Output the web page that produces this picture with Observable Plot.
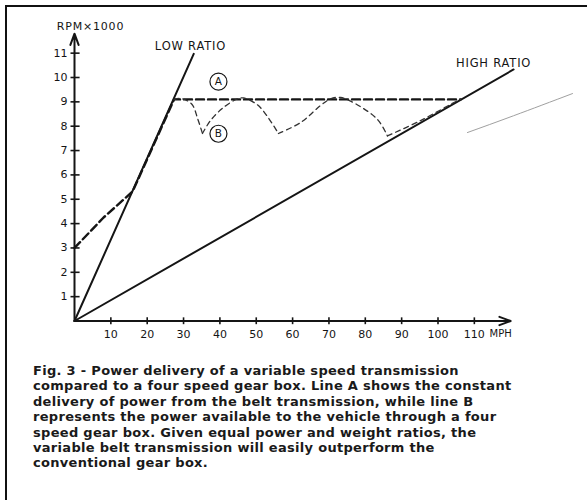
<!DOCTYPE html>
<html>
<head>
<meta charset="utf-8">
<script src="https://cdn.jsdelivr.net/npm/d3@7"></script>
<script src="https://cdn.jsdelivr.net/npm/@observablehq/plot@0.6"></script>
<style>
  html, body { margin: 0; padding: 0; background: #fff; }
  #frame { position: absolute; left: 5px; top: 5px; width: 582px; height: 495px;
           border-left: 2px solid #111; border-top: 2px solid #111; pointer-events: none; }
  #chart { position: absolute; left: 0; top: 0; }
  #caption { position: absolute; left: 33px; top: 363px; white-space: nowrap;
             font-family: "DejaVu Sans", sans-serif; font-weight: bold; font-size: 13px;
             line-height: 15.4px; letter-spacing: 0.3px; color: #1a1a1a; }
</style>
</head>
<body>
<div id="chart"></div>
<div id="frame"></div>
<div id="caption"></div>
<script>
// ---- data (MPH vs RPM x 1000) ----
const xTicks = [10, 20, 30, 40, 50, 60, 70, 80, 90, 100, 110];
const yTicks = [1, 2, 3, 4, 5, 6, 7, 8, 9, 10, 11];
const lowRatio  = [{mph: 0, rpm: 0}, {mph: 32.8, rpm: 10.97}];
const highRatio = [{mph: 0, rpm: 0}, {mph: 120.8, rpm: 10.33}];
// Line A: constant delivery from the belt transmission
const lineA = [
  {mph: 0, rpm: 3.0}, {mph: 8, rpm: 4.25}, {mph: 16, rpm: 5.32},
  {mph: 27.4, rpm: 9.1}, {mph: 106.2, rpm: 9.1}
];
// Line B: four speed gear box (segments between shifts)
const lineB = [
  {seg: 1, mph: 27.4, rpm: 9.1}, {seg: 1, mph: 29.3, rpm: 9.14}, {seg: 1, mph: 32.3, rpm: 8.9},
  {seg: 1, mph: 33.9, rpm: 8.3}, {seg: 1, mph: 35.2, rpm: 7.7},
  {seg: 2, mph: 35.2, rpm: 7.7}, {seg: 2, mph: 37.4, rpm: 8.23}, {seg: 2, mph: 41.0, rpm: 8.77},
  {seg: 2, mph: 44.8, rpm: 9.12}, {seg: 2, mph: 46.5, rpm: 9.16}, {seg: 2, mph: 50.3, rpm: 8.88},
  {seg: 2, mph: 53.3, rpm: 8.35}, {seg: 2, mph: 56.1, rpm: 7.7},
  {seg: 3, mph: 56.1, rpm: 7.7}, {seg: 3, mph: 62.2, rpm: 8.15}, {seg: 3, mph: 67.7, rpm: 8.85},
  {seg: 3, mph: 70.4, rpm: 9.12}, {seg: 3, mph: 73.2, rpm: 9.18}, {seg: 3, mph: 78.7, rpm: 8.8},
  {seg: 3, mph: 83.5, rpm: 8.25}, {seg: 3, mph: 86.1, rpm: 7.6},
  {seg: 4, mph: 86.1, rpm: 7.6}, {seg: 4, mph: 95.2, rpm: 8.23}, {seg: 4, mph: 105.4, rpm: 9.05},
  {seg: 4, mph: 106.2, rpm: 9.1}
];
// faint stray stroke on the right of the scan
const stray = [{mph: 108.1, rpm: 7.74}, {mph: 120.8, rpm: 8.43}, {mph: 137, rpm: 9.34}];
const axes = [
  {x1: 0, y1: 0, x2: 120, y2: 0},
  {x1: 0, y1: 0, x2: 0, y2: 11.8}
];
const circled = [{label: "A", mph: 39.6, rpm: 9.83}, {label: "B", mph: 39.6, rpm: 7.69}];
const ratioLabels = [
  {label: "LOW RATIO", mph: 31.9, rpm: 11.3},
  {label: "HIGH RATIO", mph: 115.3, rpm: 10.6}
];
const yTitle = [{label: "RPM×1000", mph: 4.4, rpm: 12.1}];
const xTitle = [{label: "MPH", mph: 114.2, rpm: 0}];
const captionLines = [
  "Fig. 3 - Power delivery of a variable speed transmission",
  "compared to a four speed gear box. Line A shows the constant",
  "delivery of power from the belt transmission, while line B",
  "represents the power available to the vehicle through a four",
  "speed gear box. Given equal power and weight ratios, the",
  "variable belt transmission will easily outperform the",
  "conventional gear box."
];

const ink = "#151515";
const chart = Plot.plot({
  width: 587,
  height: 350,
  x: {domain: [0, 140], range: [74, 74 + 140 * 3.635], axis: null},
  y: {domain: [0, 12], range: [320.5, 320.5 - 12 * 24.35], axis: null},
  style: {fontFamily: "DejaVu Sans, sans-serif", color: ink, background: "transparent", overflow: "visible"},
  marks: [
    Plot.line(stray, {x: "mph", y: "rpm", curve: "natural", stroke: "#a0a0a0", strokeWidth: 1}),
    Plot.line(lowRatio, {x: "mph", y: "rpm", stroke: ink, strokeWidth: 2}),
    Plot.line(highRatio, {x: "mph", y: "rpm", stroke: ink, strokeWidth: 2}),
    Plot.line(lineA, {x: "mph", y: "rpm", stroke: ink, strokeWidth: 2.4, strokeDasharray: "8,4"}),
    Plot.line(lineB, {x: "mph", y: "rpm", z: "seg", curve: "catmull-rom", stroke: "#333", strokeWidth: 1.3, strokeDasharray: "5,4"}),
    Plot.arrow(axes, {x1: "x1", y1: "y1", x2: "x2", y2: "y2", stroke: ink, strokeWidth: 2, headLength: 9, headAngle: 40}),
    Plot.link(xTicks, {x1: d => d, x2: d => d, y1: -0.13, y2: 0.15, stroke: ink, strokeWidth: 1.6}),
    Plot.link(yTicks, {x1: -1.1, x2: 1.4, y1: d => d, y2: d => d, stroke: ink, strokeWidth: 1.6}),
    Plot.text(xTicks, {x: d => d, y: 0, dy: 13, text: d => String(d), fontSize: 11, fill: ink}),
    Plot.text(yTicks, {x: 0, y: d => d, dx: -7, textAnchor: "end", text: d => String(d), fontSize: 11, fill: ink}),
    Plot.text(yTitle, {x: "mph", y: "rpm", text: "label", fontSize: 11, fill: ink}),
    Plot.text(xTitle, {x: "mph", y: "rpm", text: "label", textAnchor: "start", dy: 13, fontSize: 10, fill: ink}),
    Plot.text(ratioLabels, {x: "mph", y: "rpm", text: "label", fontSize: 11.5, fill: ink}),
    Plot.dot(circled, {x: "mph", y: "rpm", r: 8.5, stroke: ink, strokeWidth: 1.2, fill: "white"}),
    Plot.text(circled, {x: "mph", y: "rpm", text: "label", fontSize: 10.5, fill: ink})
  ]
});
d3.select(chart).selectAll("text").filter(function() {
  return /[A-Z]{3}/.test(this.textContent) && this.textContent !== "MPH";
}).attr("letter-spacing", "0.8px");
document.getElementById("chart").appendChild(chart);
document.getElementById("caption").innerHTML = captionLines.join("<br>");
</script>
</body>
</html>
